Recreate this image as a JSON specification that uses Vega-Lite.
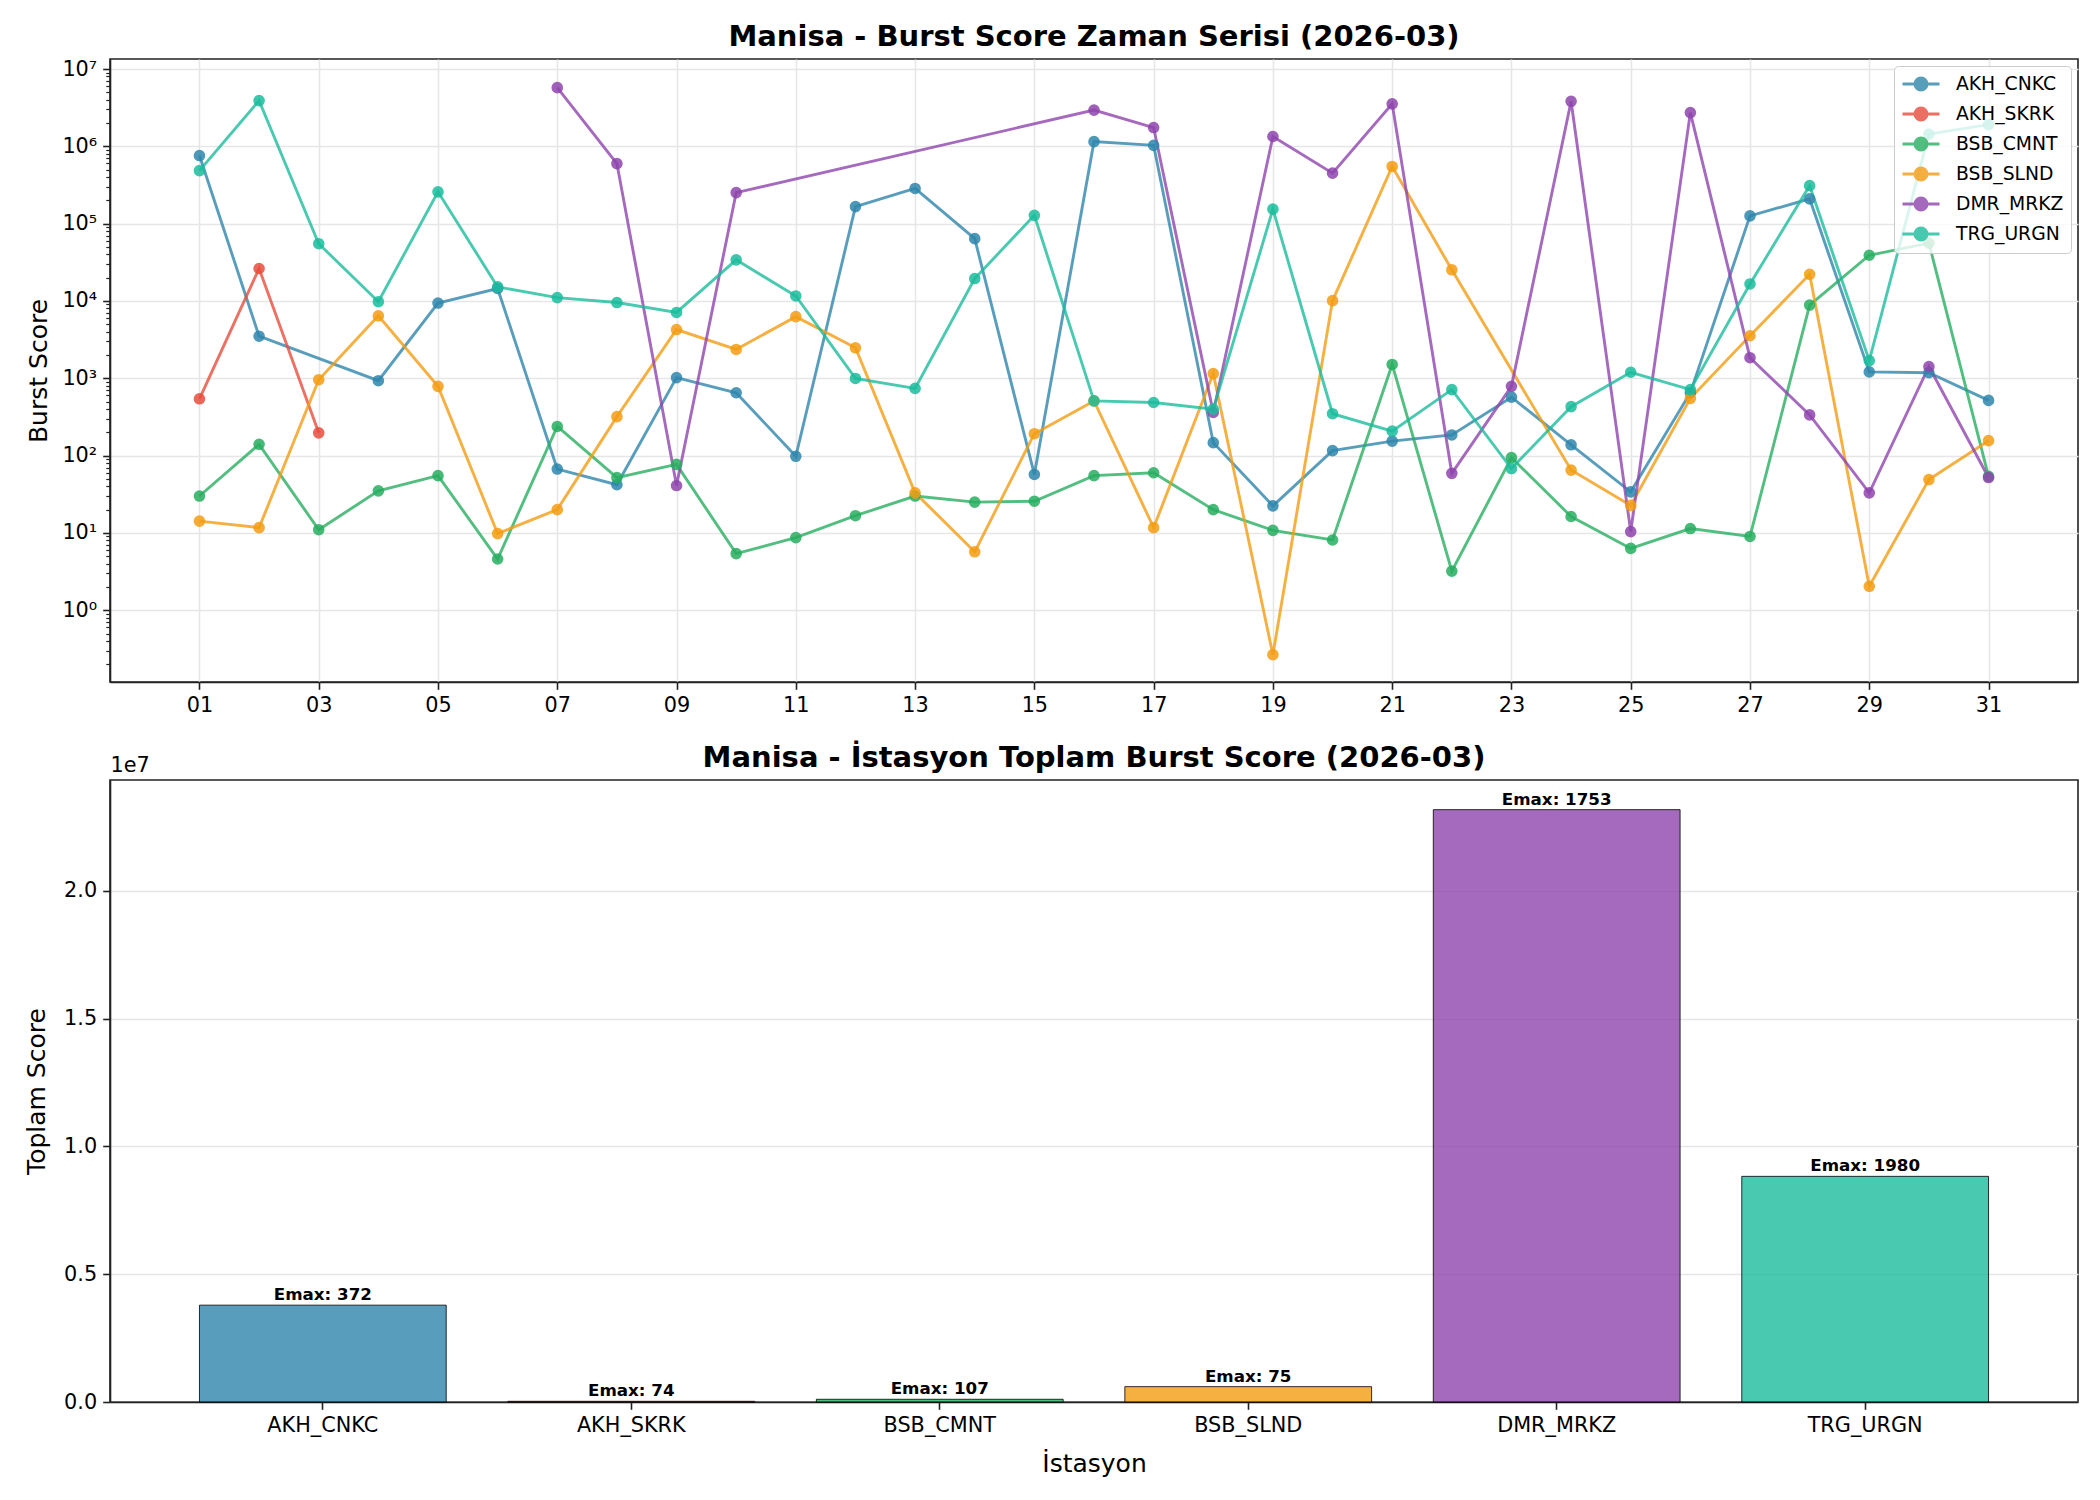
{
  "$schema": "https://vega.github.io/schema/vega-lite/v6.json",
  "background": "white",
  "padding": {"left": 23, "top": 22, "right": 8, "bottom": 10},
  "spacing": 27,
  "datasets": {
    "series": [
      {"s": "AKH_CNKC", "d": 1, "v": 760000}, {"s": "AKH_CNKC", "d": 2, "v": 3500}, {"s": "AKH_CNKC", "d": 4, "v": 930},
      {"s": "AKH_CNKC", "d": 5, "v": 9400}, {"s": "AKH_CNKC", "d": 6, "v": 14500}, {"s": "AKH_CNKC", "d": 7, "v": 67},
      {"s": "AKH_CNKC", "d": 8, "v": 42}, {"s": "AKH_CNKC", "d": 9, "v": 1020}, {"s": "AKH_CNKC", "d": 10, "v": 650},
      {"s": "AKH_CNKC", "d": 11, "v": 98}, {"s": "AKH_CNKC", "d": 12, "v": 166000}, {"s": "AKH_CNKC", "d": 13, "v": 285000},
      {"s": "AKH_CNKC", "d": 14, "v": 64000}, {"s": "AKH_CNKC", "d": 15, "v": 57}, {"s": "AKH_CNKC", "d": 16, "v": 1150000},
      {"s": "AKH_CNKC", "d": 17, "v": 1030000}, {"s": "AKH_CNKC", "d": 18, "v": 147}, {"s": "AKH_CNKC", "d": 19, "v": 22.4},
      {"s": "AKH_CNKC", "d": 20, "v": 116}, {"s": "AKH_CNKC", "d": 21, "v": 154}, {"s": "AKH_CNKC", "d": 22, "v": 185},
      {"s": "AKH_CNKC", "d": 23, "v": 570}, {"s": "AKH_CNKC", "d": 24, "v": 138}, {"s": "AKH_CNKC", "d": 25, "v": 34},
      {"s": "AKH_CNKC", "d": 26, "v": 650}, {"s": "AKH_CNKC", "d": 27, "v": 126000}, {"s": "AKH_CNKC", "d": 28, "v": 209000},
      {"s": "AKH_CNKC", "d": 29, "v": 1210}, {"s": "AKH_CNKC", "d": 30, "v": 1180}, {"s": "AKH_CNKC", "d": 31, "v": 517},
      {"s": "AKH_SKRK", "d": 1, "v": 543}, {"s": "AKH_SKRK", "d": 2, "v": 26300}, {"s": "AKH_SKRK", "d": 3, "v": 197},
      {"s": "BSB_CMNT", "d": 1, "v": 30}, {"s": "BSB_CMNT", "d": 2, "v": 140}, {"s": "BSB_CMNT", "d": 3, "v": 11},
      {"s": "BSB_CMNT", "d": 4, "v": 35}, {"s": "BSB_CMNT", "d": 5, "v": 55}, {"s": "BSB_CMNT", "d": 6, "v": 4.6},
      {"s": "BSB_CMNT", "d": 7, "v": 238}, {"s": "BSB_CMNT", "d": 8, "v": 52}, {"s": "BSB_CMNT", "d": 9, "v": 77},
      {"s": "BSB_CMNT", "d": 10, "v": 5.4}, {"s": "BSB_CMNT", "d": 11, "v": 8.7}, {"s": "BSB_CMNT", "d": 12, "v": 16.7},
      {"s": "BSB_CMNT", "d": 13, "v": 30}, {"s": "BSB_CMNT", "d": 14, "v": 25}, {"s": "BSB_CMNT", "d": 15, "v": 25.7},
      {"s": "BSB_CMNT", "d": 16, "v": 55}, {"s": "BSB_CMNT", "d": 17, "v": 60}, {"s": "BSB_CMNT", "d": 18, "v": 20},
      {"s": "BSB_CMNT", "d": 19, "v": 10.8}, {"s": "BSB_CMNT", "d": 20, "v": 8.1}, {"s": "BSB_CMNT", "d": 21, "v": 1510},
      {"s": "BSB_CMNT", "d": 22, "v": 3.2}, {"s": "BSB_CMNT", "d": 23, "v": 94}, {"s": "BSB_CMNT", "d": 24, "v": 16.3},
      {"s": "BSB_CMNT", "d": 25, "v": 6.3}, {"s": "BSB_CMNT", "d": 26, "v": 11.4}, {"s": "BSB_CMNT", "d": 27, "v": 9},
      {"s": "BSB_CMNT", "d": 28, "v": 8850}, {"s": "BSB_CMNT", "d": 29, "v": 39000}, {"s": "BSB_CMNT", "d": 30, "v": 56000},
      {"s": "BSB_CMNT", "d": 31, "v": 54},
      {"s": "BSB_SLND", "d": 1, "v": 14.2}, {"s": "BSB_SLND", "d": 2, "v": 11.7}, {"s": "BSB_SLND", "d": 3, "v": 959},
      {"s": "BSB_SLND", "d": 4, "v": 6430}, {"s": "BSB_SLND", "d": 5, "v": 787}, {"s": "BSB_SLND", "d": 6, "v": 9.8},
      {"s": "BSB_SLND", "d": 7, "v": 20}, {"s": "BSB_SLND", "d": 8, "v": 319}, {"s": "BSB_SLND", "d": 9, "v": 4270},
      {"s": "BSB_SLND", "d": 10, "v": 2360}, {"s": "BSB_SLND", "d": 11, "v": 6270}, {"s": "BSB_SLND", "d": 12, "v": 2480},
      {"s": "BSB_SLND", "d": 13, "v": 33}, {"s": "BSB_SLND", "d": 14, "v": 5.7}, {"s": "BSB_SLND", "d": 15, "v": 192},
      {"s": "BSB_SLND", "d": 16, "v": 510}, {"s": "BSB_SLND", "d": 17, "v": 11.7}, {"s": "BSB_SLND", "d": 18, "v": 1150},
      {"s": "BSB_SLND", "d": 19, "v": 0.266}, {"s": "BSB_SLND", "d": 20, "v": 10100}, {"s": "BSB_SLND", "d": 21, "v": 549000},
      {"s": "BSB_SLND", "d": 22, "v": 25300}, {"s": "BSB_SLND", "d": 24, "v": 65}, {"s": "BSB_SLND", "d": 25, "v": 22.7},
      {"s": "BSB_SLND", "d": 26, "v": 550}, {"s": "BSB_SLND", "d": 27, "v": 3550}, {"s": "BSB_SLND", "d": 28, "v": 22100},
      {"s": "BSB_SLND", "d": 29, "v": 2.04}, {"s": "BSB_SLND", "d": 30, "v": 49}, {"s": "BSB_SLND", "d": 31, "v": 156},
      {"s": "DMR_MRKZ", "d": 7, "v": 5740000}, {"s": "DMR_MRKZ", "d": 8, "v": 598000}, {"s": "DMR_MRKZ", "d": 9, "v": 41},
      {"s": "DMR_MRKZ", "d": 10, "v": 252000}, {"s": "DMR_MRKZ", "d": 16, "v": 2940000}, {"s": "DMR_MRKZ", "d": 17, "v": 1750000},
      {"s": "DMR_MRKZ", "d": 18, "v": 361}, {"s": "DMR_MRKZ", "d": 19, "v": 1340000}, {"s": "DMR_MRKZ", "d": 20, "v": 450000},
      {"s": "DMR_MRKZ", "d": 21, "v": 3540000}, {"s": "DMR_MRKZ", "d": 22, "v": 59}, {"s": "DMR_MRKZ", "d": 23, "v": 787},
      {"s": "DMR_MRKZ", "d": 24, "v": 3820000}, {"s": "DMR_MRKZ", "d": 25, "v": 10.4}, {"s": "DMR_MRKZ", "d": 26, "v": 2730000},
      {"s": "DMR_MRKZ", "d": 27, "v": 1845}, {"s": "DMR_MRKZ", "d": 28, "v": 336}, {"s": "DMR_MRKZ", "d": 29, "v": 33},
      {"s": "DMR_MRKZ", "d": 30, "v": 1420}, {"s": "DMR_MRKZ", "d": 31, "v": 52},
      {"s": "TRG_URGN", "d": 1, "v": 485000}, {"s": "TRG_URGN", "d": 2, "v": 3900000}, {"s": "TRG_URGN", "d": 3, "v": 55000},
      {"s": "TRG_URGN", "d": 4, "v": 9780}, {"s": "TRG_URGN", "d": 5, "v": 258000}, {"s": "TRG_URGN", "d": 6, "v": 15200},
      {"s": "TRG_URGN", "d": 7, "v": 11060}, {"s": "TRG_URGN", "d": 8, "v": 9540}, {"s": "TRG_URGN", "d": 9, "v": 7100},
      {"s": "TRG_URGN", "d": 10, "v": 34000}, {"s": "TRG_URGN", "d": 11, "v": 11600}, {"s": "TRG_URGN", "d": 12, "v": 995},
      {"s": "TRG_URGN", "d": 13, "v": 740}, {"s": "TRG_URGN", "d": 14, "v": 19500}, {"s": "TRG_URGN", "d": 15, "v": 128000},
      {"s": "TRG_URGN", "d": 16, "v": 510}, {"s": "TRG_URGN", "d": 17, "v": 486}, {"s": "TRG_URGN", "d": 18, "v": 399},
      {"s": "TRG_URGN", "d": 19, "v": 154000}, {"s": "TRG_URGN", "d": 20, "v": 348}, {"s": "TRG_URGN", "d": 21, "v": 207},
      {"s": "TRG_URGN", "d": 22, "v": 713}, {"s": "TRG_URGN", "d": 23, "v": 68}, {"s": "TRG_URGN", "d": 24, "v": 430},
      {"s": "TRG_URGN", "d": 25, "v": 1197}, {"s": "TRG_URGN", "d": 26, "v": 713}, {"s": "TRG_URGN", "d": 27, "v": 16600},
      {"s": "TRG_URGN", "d": 28, "v": 310000}, {"s": "TRG_URGN", "d": 29, "v": 1693}, {"s": "TRG_URGN", "d": 30, "v": 1440000},
      {"s": "TRG_URGN", "d": 31, "v": 1910000}
    ],
    "totals": [
      {"s": "AKH_CNKC", "t": 3790000, "lab": "Emax: 372"},
      {"s": "AKH_SKRK", "t": 27040, "lab": "Emax: 74"},
      {"s": "BSB_CMNT", "t": 106500, "lab": "Emax: 107"},
      {"s": "BSB_SLND", "t": 600000, "lab": "Emax: 75"},
      {"s": "DMR_MRKZ", "t": 23180000, "lab": "Emax: 1753"},
      {"s": "TRG_URGN", "t": 8830000, "lab": "Emax: 1980"}
    ]
  },
  "vconcat": [
    {
      "width": 1968,
      "height": 623,
      "title": {"text": "Manisa - Burst Score Zaman Serisi (2026-03)", "offset": 6},
      "data": {"name": "series"},
      "layer": [
        {
          "mark": {"type": "line", "strokeWidth": 2.9, "opacity": 0.8},
          "encoding": {
            "x": {
              "field": "d", "type": "quantitative",
              "scale": {"domain": [-0.5, 32.5], "nice": false, "zero": false},
              "axis": {"values": [1, 3, 5, 7, 9, 11, 13, 15, 17, 19, 21, 23, 25, 27, 29, 31],
                       "labelExpr": "datum.value < 10 ? '0' + datum.value : '' + datum.value",
                       "title": null, "grid": true}
            },
            "y": {
              "field": "v", "type": "quantitative",
              "scale": {"type": "log", "domain": [0.118, 13470000], "nice": false},
              "axis": {"values": [1, 10, 100, 1000, 10000, 100000, 1000000, 10000000],
                       "labelExpr": "'10' + ['⁰','¹','²','³','⁴','⁵','⁶','⁷'][round(log(datum.value) / LN10)]",
                       "title": "Burst Score", "grid": true, "titlePadding": 10}
            },
            "color": {
              "field": "s", "type": "nominal",
              "scale": {"domain": ["AKH_CNKC", "AKH_SKRK", "BSB_CMNT", "BSB_SLND", "DMR_MRKZ", "TRG_URGN"],
                        "range": ["#2E86AB", "#E74C3C", "#27AE60", "#F39C12", "#8E44AD", "#1ABC9C"]},
              "legend": {
                "title": null, "orient": "top-right", "offset": 7, "padding": 7,
                "fillColor": "rgba(255,255,255,0.8)", "strokeColor": "#cccccc", "cornerRadius": 4,
                "symbolType": "M-2,0H2M-0.66,0A0.66,0.66,0,1,1,0.66,0A0.66,0.66,0,1,1,-0.66,0Z",
                "symbolSize": 342, "symbolOffset": 9, "symbolStrokeWidth": 2.8,
                "labelFontSize": 18.75, "labelOffset": 24,
                "labelColor": "#000", "rowPadding": 6,
                "encode": {"symbols": {"update": {
                  "fill": {"scale": "color", "field": "value"},
                  "stroke": {"scale": "color", "field": "value"},
                  "opacity": {"value": 0.85}}}}
              }
            }
          }
        },
        {
          "mark": {"type": "point", "filled": true, "size": 135, "opacity": 0.85},
          "encoding": {
            "x": {"field": "d", "type": "quantitative"},
            "y": {
              "field": "v", "type": "quantitative",
              "axis": {"orient": "left", "labels": false, "domain": false, "grid": false, "title": null,
                       "tickSize": 4.2, "tickWidth": 1.2,
                       "values": [0.2, 0.3, 0.4, 0.5, 0.6, 0.7, 0.8, 0.9,
                                  2, 3, 4, 5, 6, 7, 8, 9,
                                  20, 30, 40, 50, 60, 70, 80, 90,
                                  200, 300, 400, 500, 600, 700, 800, 900,
                                  2000, 3000, 4000, 5000, 6000, 7000, 8000, 9000,
                                  20000, 30000, 40000, 50000, 60000, 70000, 80000, 90000,
                                  200000, 300000, 400000, 500000, 600000, 700000, 800000, 900000,
                                  2000000, 3000000, 4000000, 5000000, 6000000, 7000000, 8000000, 9000000]}
            },
            "color": {"field": "s", "type": "nominal"}
          }
        }
      ],
      "resolve": {"axis": {"y": "independent"}}
    },
    {
      "width": 1968,
      "height": 622,
      "title": {"text": "Manisa - İstasyon Toplam Burst Score (2026-03)", "offset": -19},
      "data": {"name": "totals"},
      "encoding": {
        "x": {
          "field": "s", "type": "nominal", "sort": null,
          "scale": {"paddingInner": 0.2, "paddingOuter": 0.29},
          "axis": {"title": "İstasyon", "labelAngle": 0, "grid": false, "titlePadding": 16}
        }
      },
      "layer": [
        {
          "mark": {"type": "bar", "fillOpacity": 0.8, "stroke": "#000", "strokeWidth": 1, "strokeOpacity": 0.8},
          "encoding": {
            "y": {
              "field": "t", "type": "quantitative",
              "scale": {"domain": [0, 24340000], "nice": false},
              "axis": {"values": [0, 5000000, 10000000, 15000000, 20000000],
                       "labelExpr": "format(datum.value / 10000000, '.1f')",
                       "title": "Toplam Score", "grid": true, "titlePadding": 14}
            },
            "color": {
              "field": "s", "type": "nominal",
              "scale": {"domain": ["AKH_CNKC", "AKH_SKRK", "BSB_CMNT", "BSB_SLND", "DMR_MRKZ", "TRG_URGN"],
                        "range": ["#2E86AB", "#E74C3C", "#27AE60", "#F39C12", "#8E44AD", "#1ABC9C"]},
              "legend": null
            }
          }
        },
        {
          "mark": {"type": "text", "baseline": "bottom", "dy": -1, "fontWeight": "bold", "fontSize": 16.7, "color": "#000"},
          "encoding": {
            "y": {
              "field": "t", "type": "quantitative",
              "axis": {"orient": "left", "labels": false, "ticks": false, "domain": false, "grid": false,
                       "title": "1e7", "titleAngle": 0, "titleAlign": "left", "titleBaseline": "bottom",
                       "titleX": 0, "titleY": -5, "titleFontSize": 20.8}
            },
            "text": {"field": "lab"}
          }
        }
      ],
      "resolve": {"axis": {"y": "independent"}}
    }
  ],
  "config": {
    "font": "DejaVu Sans",
    "view": {"stroke": "#222", "strokeWidth": 1.6},
    "axis": {
      "labelFont": "DejaVu Sans", "labelFontSize": 20.8, "labelColor": "#000",
      "titleFont": "DejaVu Sans", "titleFontSize": 25, "titleFontWeight": "normal", "titleColor": "#000",
      "tickColor": "#222", "tickSize": 7.3, "tickWidth": 1.6,
      "domainColor": "#222", "domainWidth": 1.6,
      "gridColor": "#e6e6e6", "gridWidth": 1.6, "labelPadding": 6
    },
    "legend": {"labelFont": "DejaVu Sans"},
    "title": {"font": "DejaVu Sans", "fontSize": 29, "fontWeight": "bold", "color": "#000", "anchor": "middle"}
  }
}
